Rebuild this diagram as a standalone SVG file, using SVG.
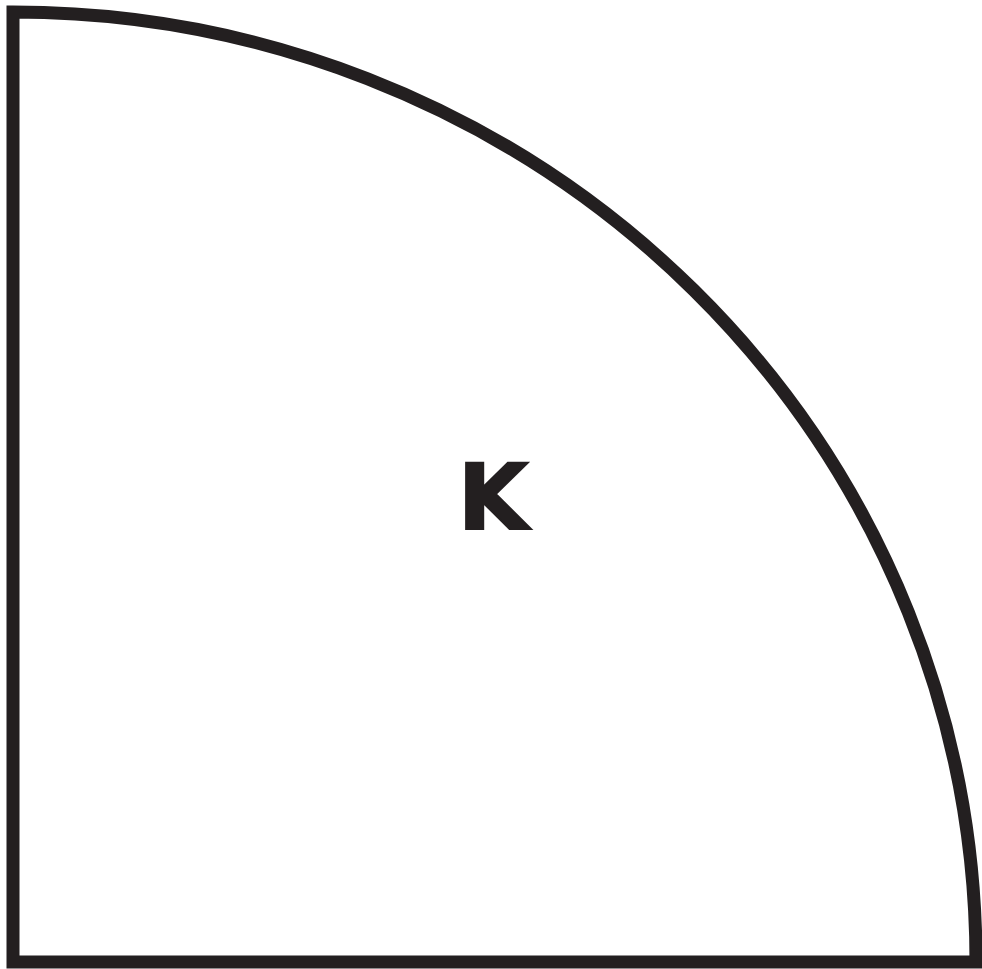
<svg xmlns="http://www.w3.org/2000/svg" width="982" height="969" viewBox="0 0 982 969">
<style>
.outline{fill:#ffffff;stroke:#231f20;stroke-width:13;stroke-linejoin:miter}
.label{font-family:"DejaVu Sans","Liberation Sans",sans-serif;font-weight:bold;font-size:91px;fill:#231f20;text-anchor:middle;stroke:#231f20;stroke-width:2}
</style>
<rect width="982" height="969" fill="#ffffff"/>
<g id="quadrant">
<path class="outline" d="M 13 962 L 13 12 A 963 950 0 0 1 976 962 Z"/>
<text class="label" x="493" y="529">K</text>
</g>
</svg>
